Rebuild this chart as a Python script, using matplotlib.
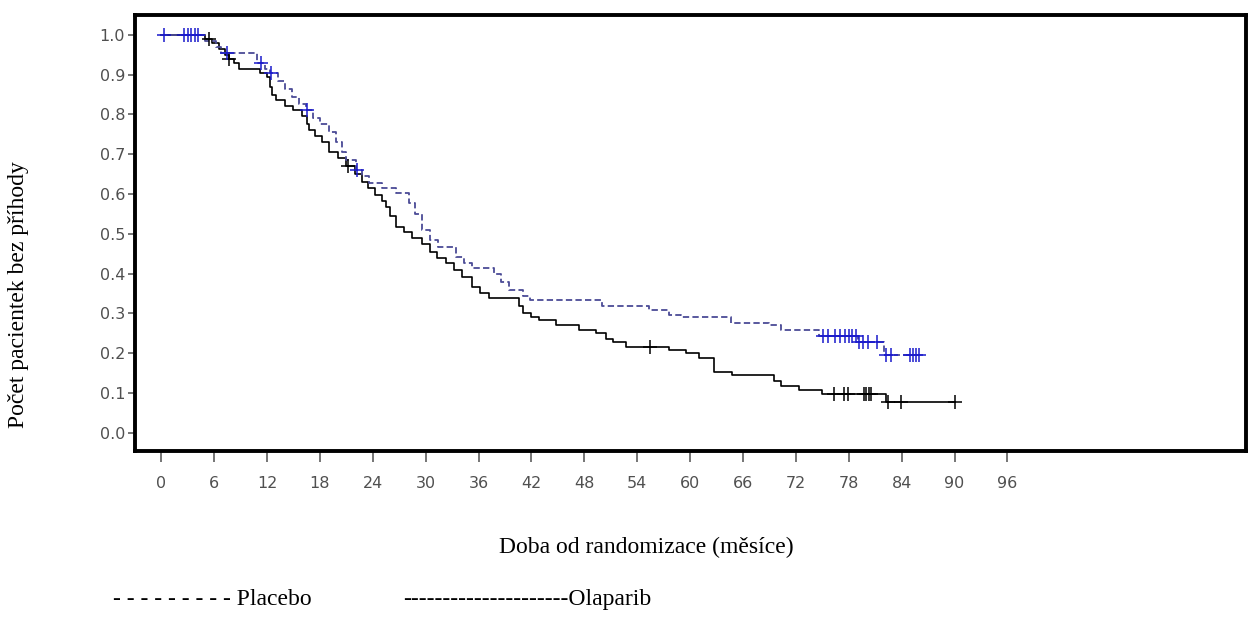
import numpy as np
import matplotlib
matplotlib.use("Agg")
import matplotlib.pyplot as plt

# Kaplan-Meier step data (time in months, survival after each event)
olaparib_t = [0, 5.0, 5.8, 6.5, 7.2, 7.7, 8.3, 8.8, 11.2, 12.0, 12.3, 12.6, 13.0, 14.0,
              15.0, 16.0, 16.5, 16.8, 17.5, 18.2, 19.0, 20.0, 21.0, 22.0, 22.8, 23.5,
              24.2, 25.0, 25.5, 26.0, 26.6, 27.5, 28.5, 29.6, 30.5, 31.3, 32.3, 33.2,
              34.1, 35.3, 36.2, 37.2, 40.6, 41.0, 42.0, 42.9, 44.8, 47.4, 49.3, 50.4,
              51.2, 52.7, 57.6, 59.5, 61.0, 62.7, 64.8, 69.5, 70.3, 72.4, 75.0, 82.2, 90.0]
olaparib_s = [1.0, 0.99, 0.98, 0.965, 0.95, 0.94, 0.928, 0.915, 0.905, 0.895, 0.87, 0.85,
              0.835, 0.82, 0.81, 0.795, 0.775, 0.76, 0.745, 0.73, 0.705, 0.69, 0.67, 0.65,
              0.63, 0.615, 0.598, 0.583, 0.568, 0.545, 0.518, 0.505, 0.49, 0.475, 0.455,
              0.44, 0.427, 0.41, 0.392, 0.367, 0.352, 0.34, 0.32, 0.30, 0.29, 0.284, 0.271,
              0.259, 0.25, 0.236, 0.229, 0.216, 0.209, 0.20, 0.188, 0.153, 0.146, 0.13,
              0.118, 0.108, 0.098, 0.077, 0.077]
olaparib_cens = [5.4, 7.7, 21.2, 55.5, 76.3, 77.5, 77.9, 79.7, 80.0, 80.3, 80.5, 82.5, 83.9, 90.0]

placebo_t = [0, 5.0, 6.2, 6.8, 10.9, 11.8, 12.3, 13.2, 14.0, 14.8, 15.6, 16.4, 17.2, 18.0,
             19.0, 19.8, 20.5, 21.0, 22.1, 22.8, 23.6, 25.0, 26.6, 28.1, 28.8, 29.6, 30.5,
             31.4, 33.4, 34.3, 35.3, 37.8, 38.6, 39.4, 41.0, 41.8, 50.0, 55.3, 57.6, 59.0,
             64.6, 69.0, 70.3, 74.6, 79.0, 82.0, 86.3]
placebo_s = [1.0, 0.985, 0.97, 0.955, 0.93, 0.915, 0.905, 0.885, 0.865, 0.845, 0.825, 0.81,
             0.79, 0.775, 0.755, 0.73, 0.705, 0.686, 0.66, 0.645, 0.628, 0.615, 0.603, 0.578,
             0.55, 0.51, 0.485, 0.467, 0.442, 0.428, 0.414, 0.40, 0.38, 0.36, 0.343, 0.335,
             0.32, 0.31, 0.297, 0.29, 0.275, 0.27, 0.259, 0.244, 0.229, 0.196, 0.196]
placebo_cens = [0.3, 2.6, 3.0, 3.4, 3.8, 4.2, 7.5, 11.3, 12.4, 16.5, 22.2, 75.1, 75.6, 76.4,
                77.0, 77.6, 78.0, 78.4, 78.8, 79.2, 79.6, 80.2, 81.2, 82.2, 82.8, 84.9, 85.3,
                85.6, 86.0]

x_ticks = list(range(0, 97, 6))
y_ticks = [0.0, 0.1, 0.2, 0.3, 0.4, 0.5, 0.6, 0.7, 0.8, 0.9, 1.0]

y_label = "Počet pacientek bez příhody"
x_label = "Doba od randomizace (měsíce)"
placebo_label = "- - - - - - - - - Placebo"
olaparib_label = "---------------------Olaparib"


def surv_at(times, steps, values):
    times = np.asarray(times)
    steps = np.asarray(steps)
    values = np.asarray(values)
    idx = np.searchsorted(steps, times, side="right") - 1
    return values[np.clip(idx, 0, len(values) - 1)]


fig = plt.figure(figsize=(12.48, 6.21), dpi=100)
ax = fig.add_axes([0.108, 0.274, 0.89, 0.702])

ax.step(olaparib_t, olaparib_s, where="post", color="black", lw=1.2)
ax.step(placebo_t, placebo_s, where="post", color="#4b4b96", lw=1.3,
        linestyle=(0, (3.5, 1.8)))

ax.plot(olaparib_cens, surv_at(olaparib_cens, olaparib_t, olaparib_s), ls="none",
        marker="+", ms=10, mew=1.1, color="black")
ax.plot(placebo_cens, surv_at(placebo_cens, placebo_t, placebo_s), ls="none",
        marker="+", ms=10, mew=1.1, color="#1a1acc")

ax.set_xlim(-3.0, 123.0)
ax.set_ylim(-0.045, 1.05)
ax.set_xticks(x_ticks)
ax.set_yticks(y_ticks)
ax.set_xticklabels([str(v) for v in x_ticks])
ax.set_yticklabels([f"{v:.1f}" for v in y_ticks])

for sp in ax.spines.values():
    sp.set_linewidth(2.8)
    sp.set_color("black")

ax.tick_params(axis="x", direction="out", length=8, width=1.1, pad=10,
               labelsize=11.5, colors="#505050")
ax.tick_params(axis="y", direction="out", length=5, width=1.1, pad=2,
               labelsize=11.5, colors="#505050")
for lab in ax.get_xticklabels() + ax.get_yticklabels():
    lab.set_family("DejaVu Sans")

serif = "Liberation Serif"
fig.text(0.0145, 0.526, y_label, rotation=90, ha="center", va="center",
         family=serif, fontsize=17)
fig.text(0.518, 0.118, x_label, ha="center", va="center", family=serif, fontsize=17)
fig.text(0.0905, 0.034, placebo_label, ha="left", va="center", family=serif, fontsize=17)
fig.text(0.323, 0.034, olaparib_label, ha="left", va="center", family=serif, fontsize=17)

fig.savefig("out.png", dpi=100, facecolor="white")
